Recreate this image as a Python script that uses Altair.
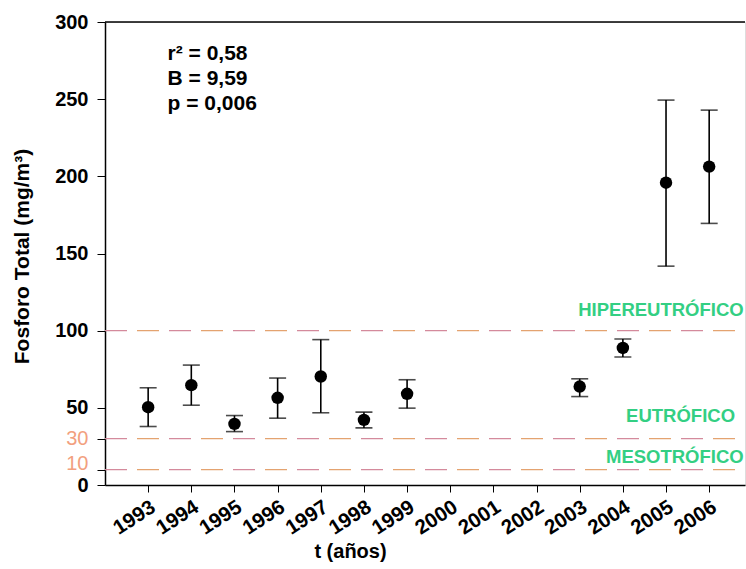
import altair as alt
import pandas as pd

# ---- data ----
years = [1993, 1994, 1995, 1996, 1997, 1998, 1999, 2003, 2004, 2005, 2006]
mean_tp = [50.4, 64.7, 39.6, 56.5, 70.3, 42.2, 59.1, 63.8, 88.8, 195.9, 206.3]
upper_tp = [63.0, 77.7, 45.0, 69.3, 94.2, 47.2, 68.2, 68.8, 94.6, 249.4, 242.9]
lower_tp = [37.9, 51.7, 34.6, 43.3, 46.8, 37.0, 49.8, 57.3, 82.9, 141.8, 169.5]
tick_years = list(range(1993, 2007))
y_ticks = [0, 10, 30, 50, 100, 150, 200, 250, 300]
thresholds = [100, 30, 10]
state_labels = ["HIPEREUTRÓFICO", "EUTRÓFICO", "MESOTRÓFICO"]
stats_lines = ["r² = 0,58", "B = 9,59", "p = 0,006"]

# ---- layout ----
W, H = 640, 463
FONT = "Liberation Sans"
state_label_y = [109.3, 41.0, 14.3]
state_label_x = [2006.8, 2006.6, 2006.8]
stats_y = [275.4, 259.2, 243.0]
stats_x = [1993.45, 1993.45, 1993.45]
GREEN = "#33cf83"

df = pd.DataFrame({"year": years, "mean": mean_tp, "lo": lower_tp, "hi": upper_tp})
thr = pd.DataFrame({"t": thresholds})
lab = pd.DataFrame({"label": state_labels, "y": state_label_y, "x": state_label_x})
st = pd.DataFrame({"txt": stats_lines, "y": stats_y, "x": stats_x})

xs = alt.Scale(domain=[1992.0, 2006.83], nice=False, zero=False)
ys = alt.Scale(domain=[0, 300], nice=False)

base = alt.Chart(df)

points = base.mark_circle(size=155, color="black", opacity=1).encode(
    x=alt.X("year:Q", scale=xs,
            axis=alt.Axis(values=tick_years, format="d", title="t (años)",
                          labelAngle=327, labelAlign="right", labelBaseline="middle",
                          labelFont=FONT, labelFontSize=20.5, labelFontWeight="bold",
                          labelColor="black", labelPadding=13, labelOffset=5, tickColor="black",
                          tickSize=7, domainColor="black", domainWidth=1.5,
                          titleFont=FONT, titleFontSize=20, titleFontWeight="bold",
                          titleColor="black", titleX=245, titleY=56,
                          titleAlign="center", titleBaseline="top",
                          labelOverlap=False, grid=False)),
    y=alt.Y("mean:Q", scale=ys,
            axis=alt.Axis(values=y_ticks, title="Fosforo Total (mg/m³)",
                          labelFont=FONT, labelFontSize=20,
                          labelFontWeight=alt.ExprRef("datum.value == 10 || datum.value == 30 ? 'normal' : 'bold'"),
                          labelColor=alt.ExprRef("datum.value == 10 || datum.value == 30 ? '#f2a07e' : 'black'"),
                          labelBaseline=alt.ExprRef("datum.value == 10 ? 'alphabetic' : 'middle'"),
                          tickColor="black", tickSize=8, labelPadding=9,
                          domainColor="black", domainWidth=1.5,
                          titleFont=FONT, titleFontSize=21, titleFontWeight="bold",
                          titleColor="black", titleX=-83, titleY=234,
                          titleAlign="center", titleBaseline="middle", titleAngle=270,
                          labelOverlap=False, grid=False)),
)

bars = base.mark_rule(color="black", strokeWidth=1.6).encode(
    x=alt.X("year:Q", scale=xs), y=alt.Y("lo:Q", scale=ys), y2="hi:Q")
cap_hi = base.mark_tick(color="black", thickness=1.6, size=17, orient="horizontal").encode(
    x=alt.X("year:Q", scale=xs), y=alt.Y("hi:Q", scale=ys))
cap_lo = base.mark_tick(color="black", thickness=1.6, size=17, orient="horizontal").encode(
    x=alt.X("year:Q", scale=xs), y=alt.Y("lo:Q", scale=ys))

dash_a = alt.Chart(thr).mark_rule(color="#d48a9c", strokeWidth=1.3, strokeDash=[22, 42]).encode(
    y=alt.Y("t:Q", scale=ys), x=alt.value(0), x2=alt.value(W))
dash_b = alt.Chart(thr).mark_rule(color="#e4a370", strokeWidth=1.3, strokeDash=[22, 42],
                                  strokeDashOffset=-32).encode(
    y=alt.Y("t:Q", scale=ys), x=alt.value(0), x2=alt.value(W))

top_line = alt.Chart(pd.DataFrame({"v": [300]})).mark_rule(color="black", strokeWidth=1.5).encode(
    y=alt.Y("v:Q", scale=ys), x=alt.value(0), x2=alt.value(W))

labels = alt.Chart(lab).mark_text(align="right", baseline="alphabetic", font=FONT,
                                  fontSize=18.5, fontWeight="bold", color=GREEN).encode(
    x=alt.X("x:Q", scale=xs), y=alt.Y("y:Q", scale=ys), text="label:N")

stats = alt.Chart(st).mark_text(align="left", baseline="alphabetic", font=FONT,
                                fontSize=21, fontWeight="bold", color="black").encode(
    x=alt.X("x:Q", scale=xs), y=alt.Y("y:Q", scale=ys), text="txt:N")

chart = alt.layer(dash_a, dash_b, top_line, bars, cap_hi, cap_lo, points, labels, stats).properties(
    width=W, height=H,
    autosize=alt.AutoSizeParams(type="none"),
    padding={"left": 105, "top": 22, "right": 1, "bottom": 84},
).configure_view(strokeWidth=0, stroke="transparent").configure(background="white")

chart.save("out.html", embed_options={"renderer": "svg", "actions": False})
